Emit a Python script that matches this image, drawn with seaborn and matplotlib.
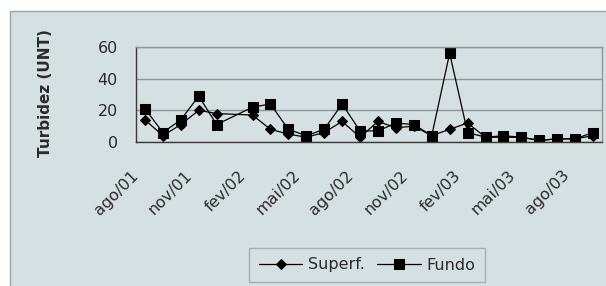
import numpy as np
import pandas as pd
import matplotlib
matplotlib.use("Agg")
import matplotlib.pyplot as plt
import matplotlib.transforms as mtransforms
from matplotlib.patches import Rectangle
import seaborn as sns

# Data: monthly turbidity, ago/01 .. set/03 (jan/02 missing)
months = ['ago/01', 'set/01', 'out/01', 'nov/01', 'dez/01', 'jan/02', 'fev/02', 'mar/02',
          'abr/02', 'mai/02', 'jun/02', 'jul/02', 'ago/02', 'set/02', 'out/02', 'nov/02',
          'dez/02', 'jan/03', 'fev/03', 'mar/03', 'abr/03', 'mai/03', 'jun/03', 'jul/03',
          'ago/03', 'set/03']
superf = [14, 4, 11, 20, 18, np.nan, 17, 8, 5, 3, 6, 13, 3, 13, 9, 10,
          4, 8, 12, 3, 3, 3, 1, 2, 2, 4]
fundo = [21, 6, 14, 29, 11, np.nan, 22, 24, 8, 4, 8, 24, 7, 7, 12, 11,
         4, 56, 6, 3, 4, 3, 1, 2, 2, 6]
tick_labels = ['ago/01', 'nov/01', 'fev/02', 'mai/02', 'ago/02', 'nov/02',
               'fev/03', 'mai/03', 'ago/03']

bg = '#d5e0e2'
sns.set_style("white")
plt.rcParams['font.family'] = ['DejaVu Sans']

df = pd.DataFrame({'idx': np.arange(len(months)), 'Superf.': superf, 'Fundo': fundo})

fig = plt.figure(figsize=(6.06, 2.86), dpi=100)
fig.patch.set_facecolor('white')
fig.patches.append(Rectangle((10 / 606, -0.05), 1.0, (286 - 11) / 286 + 0.05,
                             transform=fig.transFigure, facecolor=bg,
                             edgecolor='#9aa3a5', lw=1.0, zorder=-10))

ax = fig.add_axes([136 / 606, (286 - 142) / 286, 466 / 606, 95 / 286])
ax.set_facecolor('none')
ax.set_zorder(2)

d1 = df.dropna(subset=['Superf.'])
d2 = df.dropna(subset=['Fundo'])
sns.lineplot(data=d1, x='idx', y='Superf.', ax=ax, color='black', lw=0.9,
             marker='D', markersize=5, markeredgecolor='black', label='Superf.')
sns.lineplot(data=d2, x='idx', y='Fundo', ax=ax, color='black', lw=0.9,
             marker='s', markersize=7, markeredgecolor='black', label='Fundo')

ax.set_xlim(-0.5, len(months) - 0.5)
ax.set_ylim(0, 60)
ax.set_yticks([0, 20, 40, 60])
ax.yaxis.grid(True, color='#8c9698', lw=1.0)
ax.set_axisbelow(True)

# tick marks on category boundaries every 3 months
ax.set_xticks(np.arange(-0.5, len(months) - 1, 3))
ax.set_xticklabels(tick_labels)
ax.tick_params(axis='x', direction='out', length=4, width=1, color='#555555',
               pad=14.5, labelsize=11.5, labelcolor='#2a2a2a')
ax.tick_params(axis='y', direction='out', length=4, width=1, color='#555555',
               pad=9, labelsize=11.5, labelcolor='#2a2a2a')
offset = mtransforms.ScaledTranslation(-5 / 100, 0, fig.dpi_scale_trans)
for lab in ax.get_xticklabels():
    lab.set_rotation(45)
    lab.set_rotation_mode('anchor')
    lab.set_ha('right')
    lab.set_va('top')
    lab.set_transform(lab.get_transform() + offset)

for side in ['left', 'bottom']:
    ax.spines[side].set_color('#3a3a3a')
    ax.spines[side].set_linewidth(1.0)
for side in ['top', 'right']:
    ax.spines[side].set_color('#8c9698')
    ax.spines[side].set_linewidth(1.0)

ax.set_xlabel('')
ax.set_ylabel('')
fig.text(46 / 606, 1 - 93 / 286, 'Turbidez (UNT)', rotation=90, ha='center',
         va='center', fontsize=11, fontweight='bold', color='#2a2a2a')

leg = ax.legend(loc='center', bbox_to_anchor=(367 / 606, 1 - 265 / 286),
                bbox_transform=fig.transFigure, ncol=2, fontsize=11.5,
                frameon=True, fancybox=False, handlelength=2.7,
                handletextpad=0.35, columnspacing=0.8, borderpad=0.6)
leg.get_frame().set_facecolor(bg)
leg.get_frame().set_edgecolor('#9aa3a5')
leg.get_frame().set_linewidth(1.0)
for t in leg.get_texts():
    t.set_color('#2a2a2a')

fig.savefig('out.png', dpi=100, facecolor='white')
